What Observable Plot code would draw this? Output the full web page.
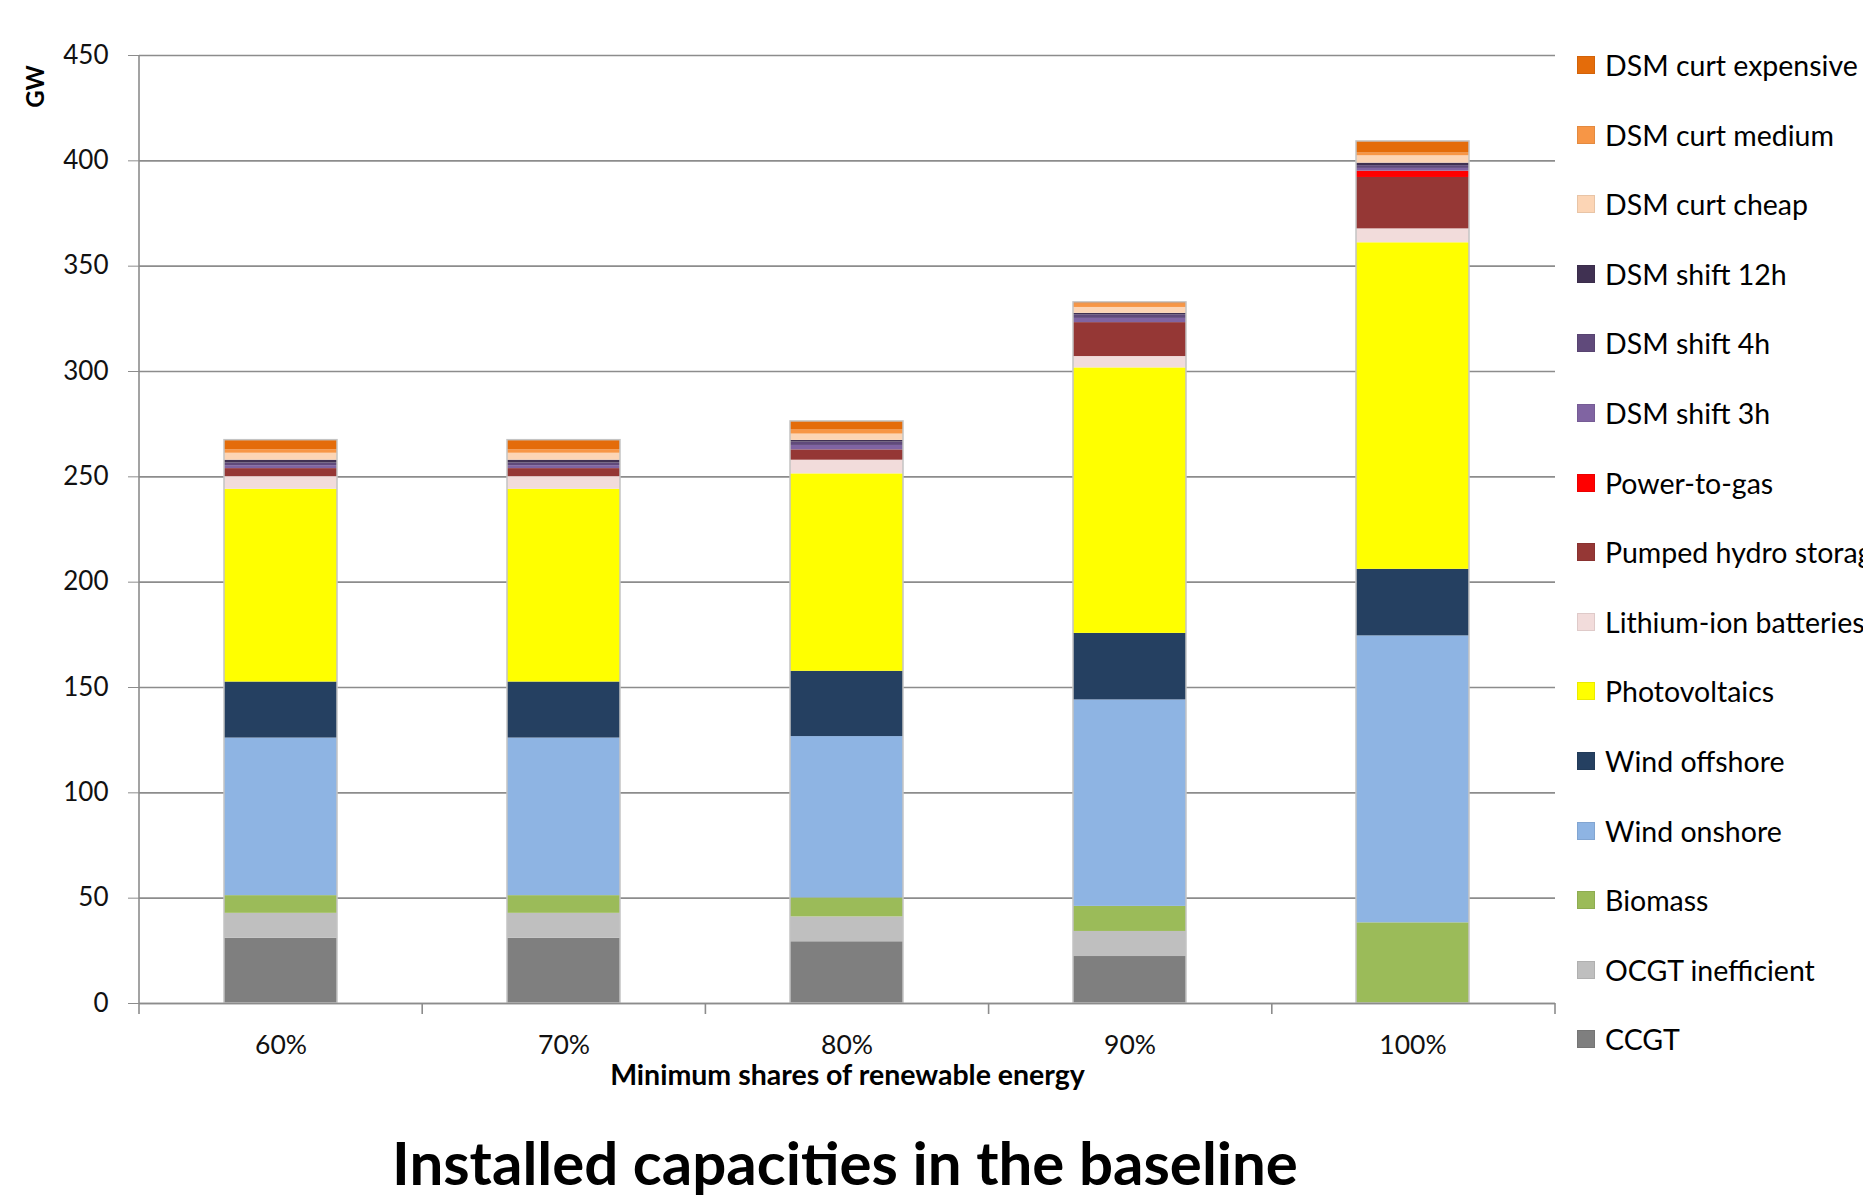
<!DOCTYPE html>
<html><head><meta charset="utf-8">
<script src="https://cdn.jsdelivr.net/npm/d3@7"></script>
<script src="https://cdn.jsdelivr.net/npm/@observablehq/plot@0.6"></script>
<style>
html,body{margin:0;padding:0;background:#fff;overflow:hidden;width:1863px;height:1198px;}
#wrap{position:relative;width:1863px;height:1198px;font-family:Lato,sans-serif;color:#000;}
#chart{position:absolute;left:0;top:0;}
#title{position:absolute;left:0;width:1690px;top:1131px;text-align:center;font-weight:bold;font-size:60px;line-height:62px;white-space:nowrap;}
.lg{position:absolute;left:1577px;height:34px;display:flex;align-items:center;white-space:nowrap;font-size:28.5px;}
.lg span.sw{display:inline-block;width:18px;height:18px;margin-right:10px;box-sizing:border-box;border:1px solid rgba(0,0,0,0.08);}
</style></head>
<body><div id="wrap"><div id="chart"></div><div id="legend"></div><div id="title">Installed capacities in the baseline</div></div>
<script>
// ---- data ----
const categories = ["60%", "70%", "80%", "90%", "100%"];
const seriesNames = ["CCGT", "OCGT inefficient", "Biomass", "Wind onshore", "Wind offshore", "Photovoltaics",
  "Lithium-ion batteries", "Pumped hydro storage", "Power-to-gas", "DSM shift 3h", "DSM shift 4h", "DSM shift 12h",
  "DSM curt cheap", "DSM curt medium", "DSM curt expensive"];
const seriesColors = ["#7f7f7f", "#bfbfbf", "#9bbb59", "#8eb4e3", "#254061", "#ffff00",
  "#f2dcdb", "#953735", "#ff0000", "#8064a2", "#604a7b", "#403152",
  "#fcd5b5", "#f79646", "#e46c0a"];
const ccgt        = [31.0, 31.0, 29.3, 22.3, 0];
const ocgt        = [11.8, 11.8, 11.8, 11.9, 0];
const biomass     = [8.4, 8.4, 9.0, 11.9, 38.3];
const windOn      = [74.8, 74.8, 76.6, 98.0, 136.2];
const windOff     = [26.6, 26.6, 31.0, 31.6, 31.6];
const pv          = [91.5, 91.5, 93.7, 126.0, 155.0];
const liIon       = [6.0, 6.0, 6.5, 5.4, 6.6];
const pumpedHydro = [3.8, 3.8, 4.9, 16.1, 24.4];
const p2g         = [0, 0, 0, 0, 3.0];
const shift3h     = [1.4, 1.4, 2.1, 2.0, 1.3];
const shift4h     = [1.3, 1.3, 1.6, 1.7, 1.3];
const shift12h    = [1.3, 1.3, 0.8, 0.7, 1.2];
const curtCheap   = [3.3, 3.3, 3.0, 2.8, 3.5];
const curtMedium  = [1.6, 1.6, 1.9, 1.6, 1.3];
const curtExp     = [4.6, 4.6, 4.1, 0.8, 5.5];
const yTicks = [0, 50, 100, 150, 200, 250, 300, 350, 400, 450];
const xLabel = "Minimum shares of renewable energy";
const yLabel = "GW";

const seriesValues = [ccgt, ocgt, biomass, windOn, windOff, pv, liIon, pumpedHydro, p2g,
  shift3h, shift4h, shift12h, curtCheap, curtMedium, curtExp];
const table = [];
seriesNames.forEach((s, i) => categories.forEach((c, j) => table.push({cat: c, series: s, value: seriesValues[i][j]})));

const font = "Lato, sans-serif";
const chart = Plot.plot({
  width: 1863, height: 1100,
  marginLeft: 139, marginRight: 308, marginTop: 55, marginBottom: 97,
  style: {fontFamily: font, fontSize: "26px", color: "#111", background: "#fff"},
  x: {type: "band", domain: categories, paddingInner: 0.6, paddingOuter: 0.3, label: null},
  y: {domain: [0, 450], label: null},
  color: {domain: seriesNames, range: seriesColors},
  marks: [
    Plot.gridY(yTicks, {stroke: "#8c8c8c", strokeOpacity: 1, strokeWidth: 1.6}),
    Plot.axisY(yTicks, {tickSize: 11, tickPadding: 20, stroke: "#8c8c8c", fontSize: 26, label: null}),
    Plot.barY(table, {x: "cat", y: "value", fill: "series", order: seriesNames}),
    Plot.barY(table, Plot.groupX({y: "sum"}, {x: "cat", y: "value", fill: "none", stroke: "#c4c4c4", strokeWidth: 1.5})),
    Plot.ruleY([0], {stroke: "#8c8c8c", strokeWidth: 1.6}),
    Plot.axisX({tickSize: 0, tickPadding: 32, fontSize: 26.5, label: null}),
    Plot.text([xLabel], {frameAnchor: "bottom", dy: 81, fontWeight: "bold", fontSize: 28.5, fill: "#000"}),
    Plot.text([yLabel], {frameAnchor: "top-left", textAnchor: "middle", lineAnchor: "middle", dx: -103, dy: 31, rotate: -90, fontWeight: "bold", fontSize: 24, fill: "#000"})
  ]
});
document.getElementById("chart").appendChild(chart);

// axis line on the left and category boundary ticks, positioned from the scales
const xs = chart.scale("x"), ys = chart.scale("y");
const svg = d3.select(chart);
const x0 = xs.range[0], x1 = xs.range[1];
const yb = ys.apply(0), yt = ys.apply(450);
svg.append("line").attr("x1", x0).attr("x2", x0).attr("y1", yb).attr("y2", yt)
  .attr("stroke", "#8c8c8c").attr("stroke-width", 1.6);
for (let k = 0; k <= categories.length; k++) {
  const xx = x0 + k * (x1 - x0) / categories.length;
  svg.append("line").attr("x1", xx).attr("x2", xx).attr("y1", yb).attr("y2", yb + 11)
    .attr("stroke", "#8c8c8c").attr("stroke-width", 1.6);
}

// legend (top to bottom = top of stack to bottom)
const legend = document.getElementById("legend");
const order = seriesNames.map((s, i) => i).reverse();
order.forEach((i, r) => {
  const d = document.createElement("div");
  d.className = "lg";
  d.style.top = (65 + r * 69.6 - 17) + "px";
  d.innerHTML = `<span class="sw" style="background:${seriesColors[i]}"></span><span>${seriesNames[i]}</span>`;
  legend.appendChild(d);
});
</script>
</body></html>
